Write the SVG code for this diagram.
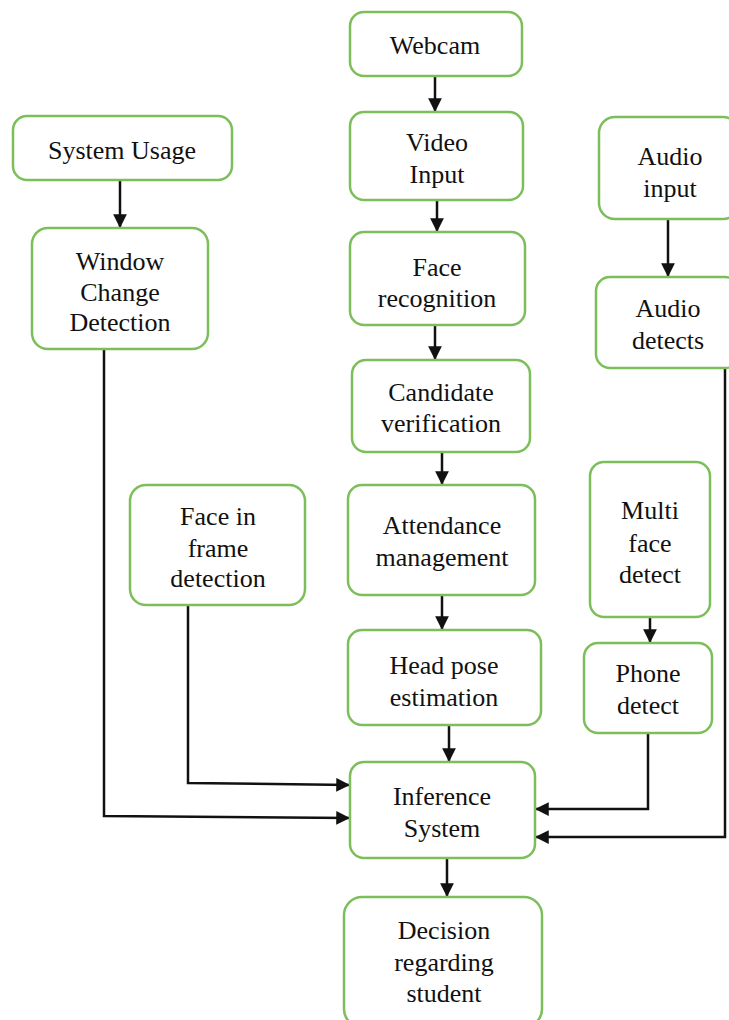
<svg xmlns="http://www.w3.org/2000/svg" width="729" height="1020" viewBox="0 0 729 1020">
<style>
.n{fill:#fff;stroke:#7cbf5a;stroke-width:2.5}
.t{font-family:"Liberation Serif","Times New Roman",serif;font-size:26px;fill:#111;text-anchor:middle}
.c{fill:none;stroke:#111;stroke-width:2.5}
</style>
<defs>
<marker id="a" viewBox="0 0 10 10" refX="10" refY="5" markerWidth="5.5" markerHeight="5.5" markerUnits="strokeWidth" orient="auto">
<path d="M0,0L10,5L0,10z" fill="#111"/>
</marker>
</defs>
<rect width="729" height="1020" fill="#fff"/>
<g id="connectors">
<path class="c" marker-end="url(#a)" d="M435,76V112"/>
<path class="c" marker-end="url(#a)" d="M437,200V232"/>
<path class="c" marker-end="url(#a)" d="M435,325V360"/>
<path class="c" marker-end="url(#a)" d="M442,452V485"/>
<path class="c" marker-end="url(#a)" d="M442,595V630"/>
<path class="c" marker-end="url(#a)" d="M449,725V762"/>
<path class="c" marker-end="url(#a)" d="M447,858V897"/>
<path class="c" marker-end="url(#a)" d="M120,180V228"/>
<path class="c" marker-end="url(#a)" d="M668,220V277"/>
<path class="c" marker-end="url(#a)" d="M650,617V643"/>
<path class="c" marker-end="url(#a)" d="M104,350V816L350,818"/>
<path class="c" marker-end="url(#a)" d="M188,605V783L350,785"/>
<path class="c" marker-end="url(#a)" d="M648,733V809H535"/>
<path class="c" marker-end="url(#a)" d="M725,368V837H535"/>
</g>
<g id="webcam"><rect class="n" x="350" y="12" width="172" height="64" rx="14"/><text class="t" x="435" y="54">Webcam</text></g>
<g id="video-input"><rect class="n" x="350" y="112" width="173" height="88" rx="14"/><text class="t" x="437" y="151">Video</text><text class="t" x="437" y="183">Input</text></g>
<g id="face-recognition"><rect class="n" x="350" y="232" width="175" height="93" rx="14"/><text class="t" x="437" y="276">Face</text><text class="t" x="437" y="307">recognition</text></g>
<g id="candidate-verification"><rect class="n" x="352" y="360" width="178" height="92" rx="14"/><text class="t" x="441" y="401">Candidate</text><text class="t" x="441" y="432">verification</text></g>
<g id="attendance-management"><rect class="n" x="348" y="485" width="187" height="110" rx="14"/><text class="t" x="442" y="534">Attendance</text><text class="t" x="442" y="566">management</text></g>
<g id="head-pose"><rect class="n" x="348" y="630" width="193" height="95" rx="14"/><text class="t" x="444" y="674">Head pose</text><text class="t" x="444" y="706">estimation</text></g>
<g id="inference-system"><rect class="n" x="350" y="762" width="185" height="96" rx="14"/><text class="t" x="442" y="805">Inference</text><text class="t" x="442" y="837">System</text></g>
<g id="decision"><rect class="n" x="344" y="897" width="198" height="130" rx="18"/><text class="t" x="444" y="939">Decision</text><text class="t" x="444" y="971">regarding</text><text class="t" x="444" y="1002">student</text></g>
<g id="system-usage"><rect class="n" x="13" y="116" width="219" height="64" rx="14"/><text class="t" x="122" y="159">System Usage</text></g>
<g id="window-change"><rect class="n" x="32" y="228" width="176" height="121" rx="16"/><text class="t" x="120" y="270">Window</text><text class="t" x="120" y="301">Change</text><text class="t" x="120" y="331">Detection</text></g>
<g id="face-in-frame"><rect class="n" x="130" y="485" width="175" height="120" rx="16"/><text class="t" x="218" y="525">Face in</text><text class="t" x="218" y="557">frame</text><text class="t" x="218" y="587">detection</text></g>
<g id="audio-input"><rect class="n" x="599" y="117" width="140" height="102" rx="16"/><text class="t" x="670" y="165">Audio</text><text class="t" x="670" y="197">input</text></g>
<g id="audio-detects"><rect class="n" x="596" y="277" width="143" height="91" rx="14"/><text class="t" x="668" y="317">Audio</text><text class="t" x="668" y="349">detects</text></g>
<g id="multi-face"><rect class="n" x="590" y="462" width="120" height="155" rx="14"/><text class="t" x="650" y="519">Multi</text><text class="t" x="650" y="552">face</text><text class="t" x="650" y="583">detect</text></g>
<g id="phone-detect"><rect class="n" x="584" y="643" width="128" height="90" rx="14"/><text class="t" x="648" y="682">Phone</text><text class="t" x="648" y="714">detect</text></g>
</svg>
